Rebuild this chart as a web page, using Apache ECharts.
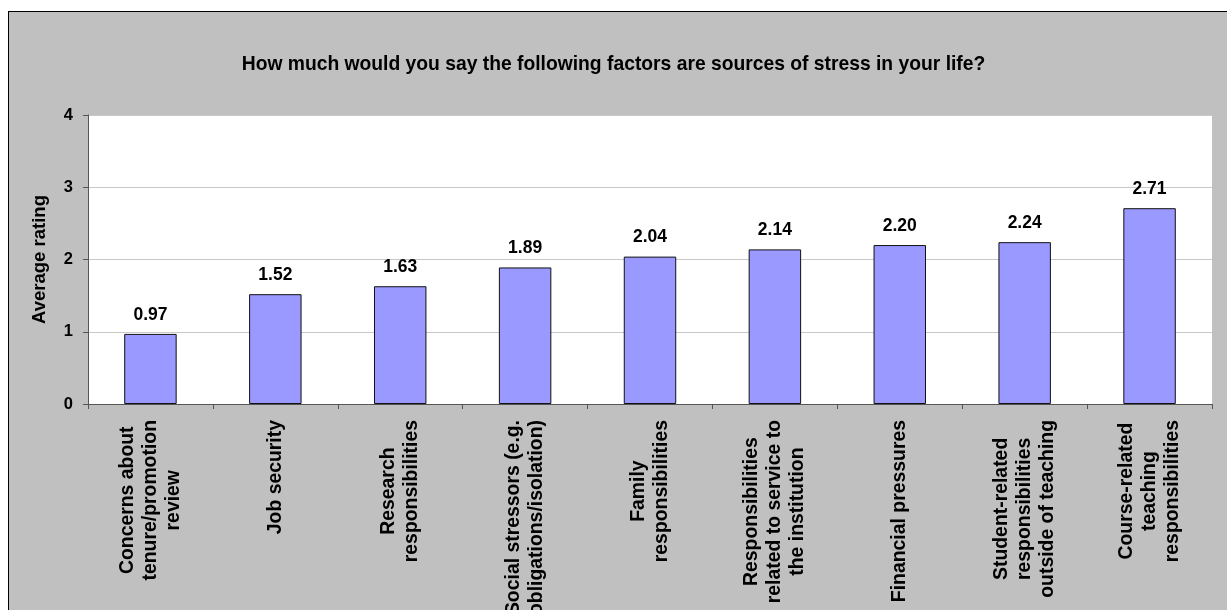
<!DOCTYPE html>
<html>
<head>
<meta charset="utf-8">
<script src="https://cdn.jsdelivr.net/npm/echarts@6/dist/echarts.min.js"></script>
<style>
html,body{margin:0;padding:0;background:#fff;overflow:hidden;width:1227px;height:610px}
#frame{position:absolute;left:8px;top:11px;width:1400px;height:800px;border:1px solid #000;background:#c0c0c0}
#chart{position:absolute;left:0;top:0;width:1227px;height:610px}
</style>
</head>
<body>
<div id="frame"></div>
<div id="chart"></div>
<script>
const titleText = 'How much would you say the following factors are sources of stress in your life?';
const yAxisName = 'Average rating';
const categories = [
  'Concerns about\ntenure/promotion\nreview',
  'Job security',
  'Research\nresponsibilities',
  'Social stressors (e.g.\nobligations/isolation)',
  'Family\nresponsibilities',
  'Responsibilities\nrelated to service to\nthe institution',
  'Financial pressures',
  'Student-related\nresponsibilities\noutside of teaching',
  'Course-related\nteaching\nresponsibilities'
];
const values = [0.97, 1.52, 1.63, 1.89, 2.04, 2.14, 2.20, 2.24, 2.71];
const yMin = 0, yMax = 4, yInterval = 1;

const FONT = '"Liberation Sans", Arial, sans-serif';
const chart = echarts.init(document.getElementById('chart'), null, {renderer: 'canvas'});
chart.setOption({
  backgroundColor: 'transparent',
  animation: false,
  title: {
    text: titleText,
    left: 'center',
    top: 50,
    textStyle: {fontFamily: FONT, fontSize: 19.3, fontWeight: 'bold', color: '#000'}
  },
  grid: {
    left: 88, right: 15, top: 115, bottom: 206,
    outerBoundsMode: 'none',
    containLabel: false,
    show: true, backgroundColor: '#fff', borderWidth: 0
  },
  xAxis: {
    type: 'category',
    data: categories,
    axisLine: {lineStyle: {color: '#555', width: 1}},
    axisTick: {show: true, length: 5, lineStyle: {color: '#555'}},
    axisLabel: {
      interval: 0,
      rotate: 90,
      margin: 16,
      color: '#000',
      fontFamily: FONT,
      fontSize: 19.4,
      fontWeight: 'bold',
      lineHeight: 23,
      formatter: function (v) {
        return v.split('\n').map(function (s) { return '{c|' + s + '}'; }).join('\n');
      },
      rich: {
        c: {align: 'center', fontFamily: FONT, fontSize: 19.4, fontWeight: 'bold', lineHeight: 23, color: '#000'}
      }
    }
  },
  yAxis: {
    type: 'value',
    min: yMin, max: yMax, interval: yInterval,
    name: yAxisName,
    nameLocation: 'middle',
    nameGap: 39,
    nameTextStyle: {fontFamily: FONT, fontSize: 18.5, fontWeight: 'bold', color: '#000'},
    axisLine: {show: true, lineStyle: {color: '#555', width: 1}},
    axisTick: {show: true, length: 5, lineStyle: {color: '#555'}},
    axisLabel: {margin: 15, color: '#000', fontFamily: FONT, fontSize: 16.5, fontWeight: 'bold'},
    splitLine: {show: true, lineStyle: {color: '#c8c8c8', width: 1}}
  },
  series: [{
    type: 'bar',
    data: values,
    barCategoryGap: '58%',
    itemStyle: {color: '#9999ff', borderColor: '#111', borderWidth: 1},
    label: {
      show: true,
      position: 'top',
      distance: 10,
      color: '#000',
      fontFamily: FONT,
      fontSize: 17.5,
      fontWeight: 'bold',
      formatter: function (p) { return p.value.toFixed(2); }
    }
  }]
});
</script>
</body>
</html>
